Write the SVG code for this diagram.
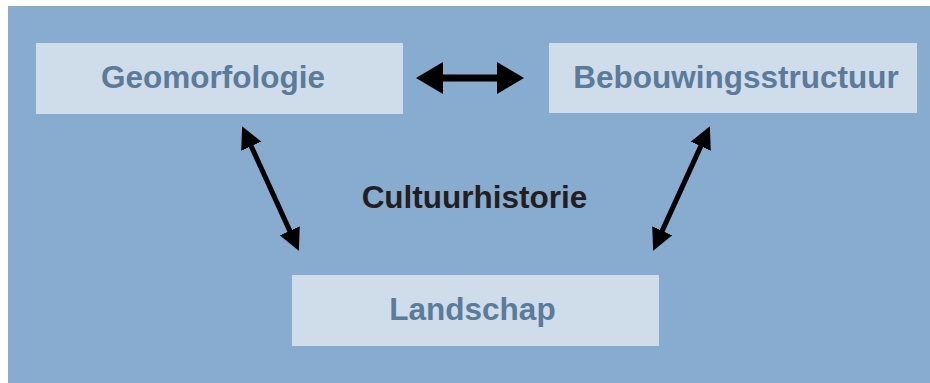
<svg xmlns="http://www.w3.org/2000/svg" width="930" height="383" viewBox="0 0 930 383">
<style>
.box{fill:#cfdcea}
.lbl{font-family:"Liberation Sans",Arial,sans-serif;font-weight:bold;font-size:31.5px;fill:#5b7b9a;text-anchor:middle}
.title{font-family:"Liberation Sans",Arial,sans-serif;font-weight:bold;font-size:31.5px;fill:#231f20;text-anchor:middle}
.thin{stroke:#000;stroke-width:5;fill:none;marker-start:url(#ah);marker-end:url(#ah)}
.thick{stroke:#000;stroke-width:7;fill:none;marker-start:url(#ahb);marker-end:url(#ahb)}
</style>
<defs>
<marker id="ah" markerUnits="userSpaceOnUse" markerWidth="22" markerHeight="22" viewBox="0 0 22 22" refX="10" refY="11" orient="auto-start-reverse">
<path d="M0,0 L22,11 L0,22 z" fill="#000"/>
</marker>
<marker id="ahb" markerUnits="userSpaceOnUse" markerWidth="27" markerHeight="32" viewBox="0 0 27 32" refX="14" refY="16" orient="auto-start-reverse">
<path d="M0,0 L27,16 L0,32 z" fill="#000"/>
</marker>
</defs>
<rect x="8" y="6" width="922" height="377" fill="#88abd0"/>
<g id="geomorfologie">
<rect class="box" x="36" y="43" width="367" height="71"/>
<text class="lbl" x="213" y="88">Geomorfologie</text>
</g>
<g id="bebouwingsstructuur">
<rect class="box" x="549" y="43" width="368" height="70"/>
<text class="lbl" x="736" y="88">Bebouwingsstructuur</text>
</g>
<g id="landschap">
<rect class="box" x="292" y="275" width="367" height="71"/>
<text class="lbl" x="472.5" y="320">Landschap</text>
</g>
<g id="cultuurhistorie">
<text class="title" x="474.5" y="208">Cultuurhistorie</text>
</g>
<g id="connectors">
<line class="thick" x1="429" y1="78" x2="511" y2="78"/>
<line class="thin" x1="247.1" y1="137.1" x2="293.9" y2="239.9"/>
<line class="thin" x1="704.9" y1="137.1" x2="658.1" y2="239.9"/>
</g>
</svg>
